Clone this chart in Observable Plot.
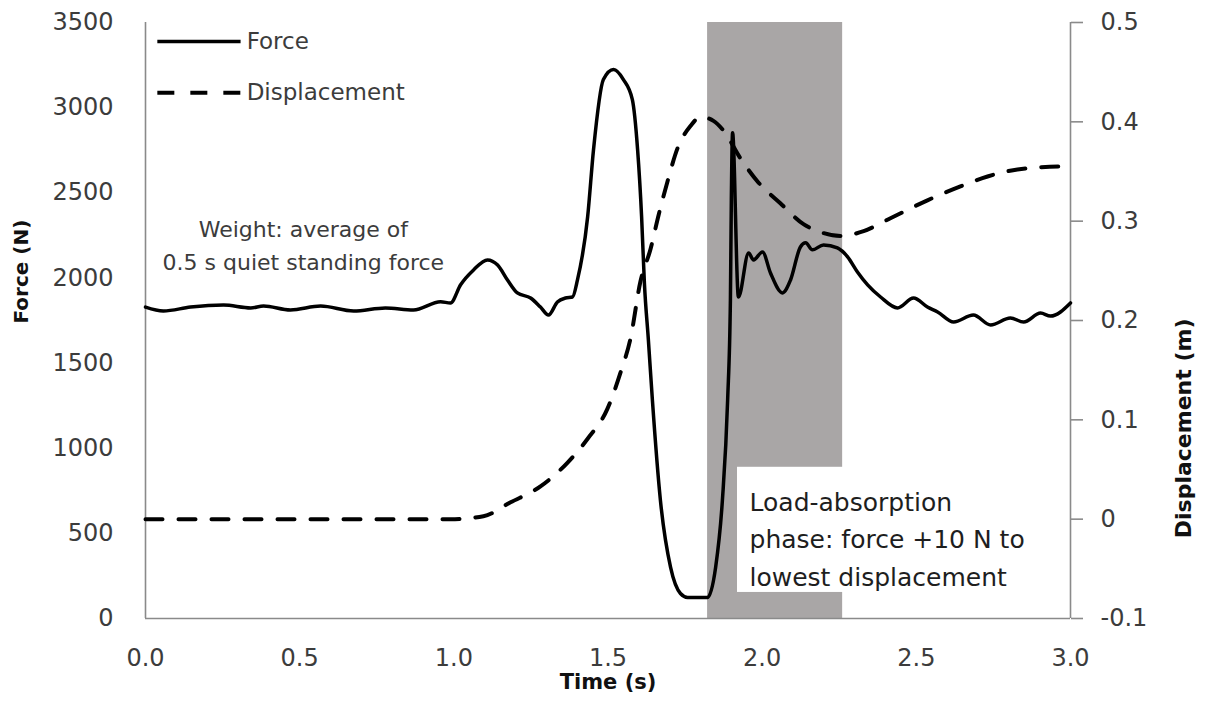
<!DOCTYPE html>
<html>
<head>
<meta charset="utf-8">
<script src="https://cdn.jsdelivr.net/npm/d3@7"></script>
<script src="https://cdn.jsdelivr.net/npm/@observablehq/plot@0.6"></script>
<style>
  html, body { margin: 0; padding: 0; background: #fff; }
  #chart svg { display: block; }
</style>
</head>
<body>
<div id="chart"></div>
<script>
// Vertical ground reaction force during a countermovement jump (left axis)
const forceTime = [
  0.000, 0.058, 0.146, 0.253, 0.341, 0.383, 0.470, 0.568, 0.675, 0.778,
  0.869, 0.957, 0.989, 1.022, 1.064, 1.109, 1.142, 1.174, 1.206, 1.249,
  1.281, 1.307, 1.336, 1.362, 1.385, 1.401, 1.434, 1.453, 1.485,
  1.518, 1.550, 1.579, 1.596, 1.609, 1.618, 1.631, 1.644, 1.670, 1.703, 1.735, 1.758,
  1.823, 1.849, 1.871, 1.888, 1.897, 1.900, 1.904, 1.923, 1.956, 1.972,
  2.001, 2.027, 2.066, 2.092, 2.124, 2.141, 2.163, 2.199, 2.244, 2.277,
  2.309, 2.342, 2.384, 2.439, 2.491, 2.536, 2.569, 2.621, 2.685, 2.741,
  2.805, 2.848, 2.903, 2.935, 3.000
];
const forceN = [
  1829, 1806, 1829, 1841, 1824, 1835, 1812, 1835, 1806, 1824,
  1812, 1860, 1853, 1960, 2047, 2106, 2076, 1988, 1912, 1882,
  1829, 1782, 1859, 1882, 1888, 1988, 2359, 2753, 3165,
  3224, 3165, 3047, 2753, 2359, 1971, 1635, 1282, 694, 300, 147, 124,
  124, 300, 694, 1282, 1871, 2459, 2853, 1888, 2147, 2106,
  2153, 2029, 1912, 1988, 2182, 2206, 2165, 2194, 2176, 2124,
  2035, 1959, 1888, 1824, 1882, 1829, 1800, 1741, 1782, 1724,
  1765, 1741, 1794, 1776, 1853
];

// Centre-of-mass displacement (right axis)
const dispTime = [
  0.000, 0.503, 0.859, 0.989, 1.096, 1.184, 1.281, 1.369, 1.434, 1.498,
  1.541, 1.573, 1.605, 1.638, 1.664, 1.693, 1.725, 1.768, 1.800, 1.842,
  1.875, 1.930, 1.985, 2.059, 2.134, 2.189, 2.254, 2.329, 2.416, 2.536,
  2.643, 2.731, 2.828, 2.977, 3.000
];
const dispM = [
  0.000, 0.000, 0.000, 0.000, 0.003, 0.017, 0.033, 0.057, 0.081, 0.111,
  0.148, 0.182, 0.239, 0.272, 0.306, 0.340, 0.373, 0.396, 0.405, 0.401,
  0.391, 0.363, 0.340, 0.318, 0.297, 0.289, 0.285, 0.290, 0.303, 0.321,
  0.335, 0.345, 0.352, 0.355, 0.355
];

// Axis ticks
const timeTicks = [0, 0.5, 1, 1.5, 2, 2.5, 3];
const forceTicks = [0, 500, 1000, 1500, 2000, 2500, 3000, 3500];
const dispTicks = [-0.1, 0, 0.1, 0.2, 0.3, 0.4, 0.5];
const dispTickLabels = ["-0.1", "0", "0.1", "0.2", "0.3", "0.4", "0.5"];

// Load-absorption phase (shaded)
const phaseStart = 1.823;
const phaseEnd = 2.261;

const legendLabels = ["Force", "Displacement"];
const weightNote = "Weight: average of\n0.5 s quiet standing force";
const phaseNote = "Load-absorption\nphase: force +10 N to\nlowest displacement";

// Displacement is drawn on the force scale: map [-0.1, 0.5] m onto [0, 3500] N
const forceMax = 3500, dispMin = -0.1, dispMax = 0.5;
const toForce = d => (d - dispMin) / (dispMax - dispMin) * forceMax;

const forceData = forceTime.map((t, i) => ({t, f: forceN[i]}));
const dispData = dispTime.map((t, i) => ({t, d: dispM[i]}));

const axisGray = "#8a8a8a";
const labelColor = "#3c3c3c";
const font = "DejaVu Sans";

const chart = Plot.plot({
  width: 1207,
  height: 709,
  marginLeft: 145,
  marginRight: 137,
  marginTop: 22,
  marginBottom: 91,
  x: {domain: [0, 3]},
  y: {domain: [0, forceMax]},
  style: {fontFamily: font, fontSize: "24px", color: labelColor, background: "#fff", overflow: "visible"},
  marks: [
    // shaded phase
    Plot.rect([{x1: phaseStart, x2: phaseEnd}], {x1: "x1", x2: "x2", y1: 0, y2: forceMax, fill: "#a9a6a6"}),
    // white box behind the phase note
    Plot.rect([phaseNote], {x1: 1.92, x2: 2.85, y1: 153, y2: 888, fill: "#fff"}),

    // axis lines
    Plot.ruleX([0, 3], {stroke: axisGray, strokeWidth: 1.6}),
    Plot.ruleY([0], {stroke: axisGray, strokeWidth: 1.6}),

    Plot.axisX({ticks: timeTicks, tickFormat: d3.format(".1f"), tickSize: 0, tickPadding: 30, label: null, fill: labelColor}),
    Plot.axisY({ticks: forceTicks, tickFormat: d => String(d), tickSize: 0, tickPadding: 32, label: null, fill: labelColor}),
    Plot.axisY({
      anchor: "right",
      ticks: dispTicks.map(toForce),
      tickFormat: (v) => dispTickLabels[dispTicks.findIndex(d => Math.abs(toForce(d) - v) < 1e-6)],
      tickSize: 12,
      tickPadding: 18,
      stroke: axisGray,
      strokeWidth: 1.6,
      fill: labelColor,
      label: null
    }),

    // axis titles
    Plot.text(["Force (N)"], {frameAnchor: "left", dx: -124, dy: 3, rotate: -90, fontWeight: "bold", fontSize: 20, fill: "#111"}),
    Plot.text(["Displacement (m)"], {frameAnchor: "right", dx: 113, dy: -2, rotate: -90, fontWeight: "bold", fontSize: 22, fill: "#111"}),
    Plot.text(["Time (s)"], {frameAnchor: "bottom", dy: 70, fontWeight: "bold", fontSize: 21, fill: "#111"}),

    // series
    Plot.line(dispData, {x: "t", y: d => toForce(d.d), stroke: "#000", strokeWidth: 4, strokeDasharray: "17,16", curve: "monotone-x"}),
    Plot.line(forceData, {x: "t", y: "f", stroke: "#000", strokeWidth: 3.5, curve: "monotone-x", strokeLinejoin: "round"}),

    // legend
    Plot.ruleY([3388], {x1: 0.04, x2: 0.31, stroke: "#000", strokeWidth: 3.5}),
    Plot.ruleY([3088], {x1: 0.04, x2: 0.31, stroke: "#000", strokeWidth: 4, strokeDasharray: "17,16"}),
    Plot.text(legendLabels, {x: 0.328, y: (d, i) => [3388, 3088][i], textAnchor: "start", lineAnchor: "middle", fontSize: 23, fill: labelColor}),

    // notes
    Plot.text([weightNote], {x: 0.512, y: 2376, textAnchor: "middle", lineAnchor: "top", lineHeight: 1.5, fontSize: 22, fill: labelColor}),
    Plot.text([phaseNote], {x: 1.959, y: 788, textAnchor: "start", lineAnchor: "top", lineHeight: 1.5, fontSize: 25, fill: "#1e1e1e"})
  ]
});

document.getElementById("chart").appendChild(chart);
</script>
</body>
</html>
